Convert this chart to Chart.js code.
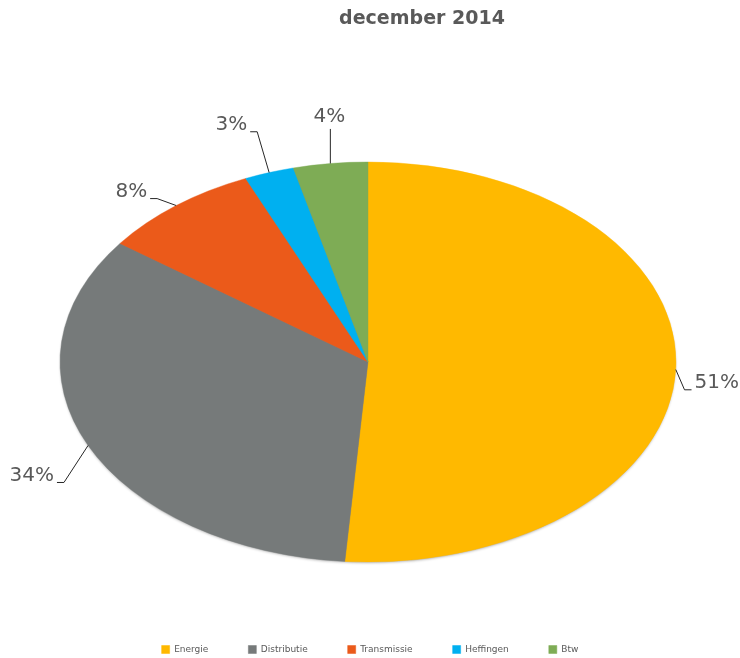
<!DOCTYPE html>
<html>
<head>
<meta charset="utf-8">
<script src="https://cdn.jsdelivr.net/npm/chart.js@4.4.1/dist/chart.umd.min.js"></script>
<style>
  html, body { margin: 0; padding: 0; background: #fff; }
  #wrap { width: 740px; height: 658px; }
</style>
</head>
<body>
<div id="wrap"><canvas id="pie" width="740" height="658"></canvas></div>
<script>
// chart data
const chartTitle = 'december 2014';
const categories = ['Energie', 'Distributie', 'Transmissie', 'Heffingen', 'Btw'];
const shares = [51.2, 33.9, 8.4, 2.6, 3.9];

const sliceColors = ['#FFB900', '#767A7A', '#EB5A1A', '#00B0F0', '#7EAC55'];
const textColor = '#595959';

// ellipse placement (pie is squashed like the excel 3d look)
const CX = 368, CY = 362;
const RX = 308, RY = 200;
// small nudges for the data labels, excel moved them by hand
const labelNudge = [[1, 11], [-20, 5], [-20, 33], [-25, 9], [4, 13]];

const ellipsePlugin = {
    id: 'ellipse',
    beforeDatasetsDraw(chart) {
        const arc = chart.getDatasetMeta(0).data[0];
        const ctx = chart.ctx;
        // soft shadow under the whole pie only, not between slices
        ctx.save();
        ctx.shadowColor = 'rgba(0,0,0,0.4)';
        ctx.shadowBlur = 3;
        ctx.shadowOffsetY = 1.5;
        ctx.fillStyle = '#888';
        ctx.beginPath();
        ctx.ellipse(CX, CY, RX - 1, RY - 1, 0, 0, Math.PI * 2);
        ctx.fill();
        ctx.restore();

        ctx.save();
        ctx.translate(CX, CY);
        ctx.scale(1, RY / RX);
        ctx.translate(-arc.x, -arc.y);
    },
    afterDatasetsDraw(chart) {
        chart.ctx.restore();
    }
};

const labelPlugin = {
    id: 'pieLabels',
    afterDraw(chart) {
        const ctx = chart.ctx;
        const meta = chart.getDatasetMeta(0);
        const total = shares.reduce((a, b) => a + b, 0);

        // title
        ctx.save();
        ctx.fillStyle = textColor;
        ctx.font = 'bold 19px "DejaVu Sans"';
        ctx.textAlign = 'center';
        ctx.textBaseline = 'middle';
        ctx.fillText(chartTitle, 422, 19);

        ctx.font = '20px "DejaVu Sans"';
        ctx.strokeStyle = '#262626';
        ctx.lineWidth = 1;
        meta.data.forEach((arc, i) => {
            const a = (arc.startAngle + arc.endAngle) / 2;
            const px = CX + RX * Math.cos(a);
            const py = CY + RY * Math.sin(a);
            const lx = CX + (RX + 40) * Math.cos(a) + labelNudge[i][0];
            const ly = CY + (RY + 60) * Math.sin(a) + labelNudge[i][1];
            const txt = Math.round(shares[i] / total * 100) + '%';
            const w = ctx.measureText(txt).width;

            ctx.beginPath();
            if (Math.abs(lx - px) < 15) {
                ctx.moveTo(px, py);
                ctx.lineTo(px, ly + 12);
            } else {
                const side = lx > px ? -1 : 1;
                const edge = lx + side * (w / 2 + 3);
                const ey = ly + 7;
                ctx.moveTo(edge, ey);
                ctx.lineTo(edge + side * 7, ey);
                ctx.lineTo(px, py);
            }
            ctx.stroke();

            ctx.fillText(txt, lx, ly);
        });
        ctx.restore();
    }
};

const ctx = document.getElementById('pie').getContext('2d');
new Chart(ctx, {
    type: 'pie',
    data: {
        labels: categories,
        datasets: [{
            data: shares,
            backgroundColor: sliceColors,
            borderColor: sliceColors,
            borderWidth: 0.5,
            clip: false
        }]
    },
    options: {
        responsive: false,
        animation: false,
        events: [],
        radius: RX,
        layout: { padding: { top: 40, bottom: -6, left: 0, right: 0 } },
        plugins: {
            title: { display: false },
            tooltip: { enabled: false },
            legend: {
                display: true,
                position: 'bottom',
                labels: {
                    boxWidth: 8,
                    boxHeight: 8,
                    padding: 40,
                    color: textColor,
                    font: { family: '"DejaVu Sans"', size: 9 }
                }
            }
        }
    },
    plugins: [ellipsePlugin, labelPlugin]
});
</script>
</body>
</html>
